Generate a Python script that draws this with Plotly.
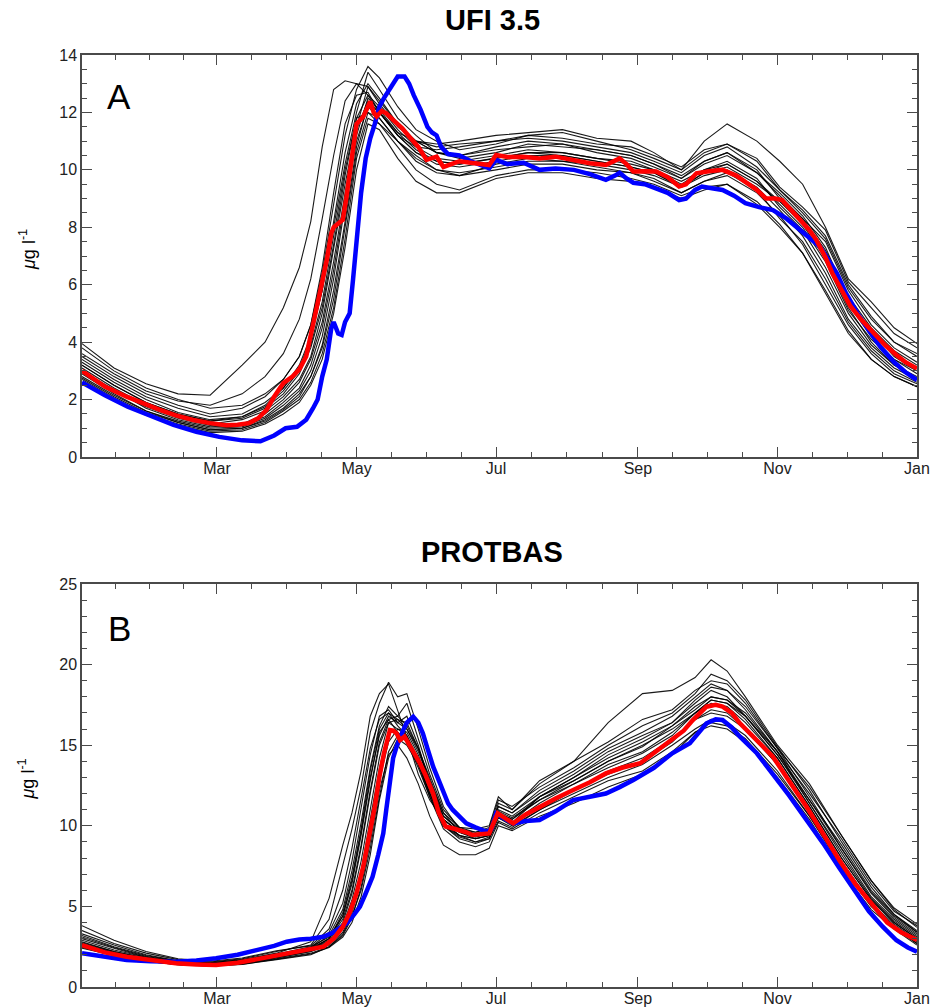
import plotly.graph_objects as go

# ---------------- DATA ----------------
# day of year (0 = 1 Jan, 365 = 1 Jan next year)
month_bounds = [0, 59, 120, 181, 243, 304, 365]
month_tick_days = [59, 120, 181, 243, 304, 365]
month_tick_labels = ["Mar", "May", "Jul", "Sep", "Nov", "Jan"]

# ---- Panel A : UFI 3.5 ----
ufi_member_days = [0, 14, 28, 42, 56, 70, 80, 88, 95, 100, 105, 110, 115, 120, 125, 130, 138, 146, 155,
                   165, 181, 195, 210, 225, 240, 250, 262, 272, 282, 295, 305, 315, 325, 335, 345, 355, 365]
ufi_members = [
    [3.95, 3.1, 2.55, 2.2, 2.15, 3.2, 4.0, 5.2, 6.6, 8.2, 10.8, 12.8, 13.1, 13.0, 12.6, 12.0, 11.3, 11.0, 10.9,
     11.0, 11.2, 11.3, 11.4, 11.1, 11.0, 10.6, 10.0, 11.0, 11.6, 11.0, 10.3, 9.5, 8.0, 6.2, 5.4, 4.5, 3.95],
    [3.6, 2.9, 2.3, 1.95, 1.8, 2.2, 2.8, 3.6, 4.8, 6.2, 8.3, 10.5, 12.4, 13.0, 12.9, 12.3, 11.5, 11.0, 10.8,
     10.9, 11.0, 11.1, 11.0, 10.8, 10.6, 10.3, 9.9, 10.5, 10.8, 10.1, 9.3, 8.5, 7.6, 5.9, 4.8, 4.0, 3.5],
    [3.8, 3.0, 2.4, 2.0, 1.7, 1.8, 2.2, 2.7, 3.5, 4.6, 6.4, 8.8, 11.2, 12.8, 13.6, 13.2, 12.2, 11.4, 11.0,
     10.7, 10.9, 11.2, 11.3, 11.0, 10.7, 10.4, 10.0, 10.6, 10.9, 10.4, 9.4, 8.7, 7.9, 6.1, 5.2, 4.3, 3.8],
    [3.4, 2.7, 2.1, 1.7, 1.4, 1.5, 1.9, 2.4, 3.2, 4.2, 5.8, 8.0, 10.2, 12.0, 13.4, 12.8, 11.8, 11.2, 10.6,
     10.5, 10.7, 10.8, 10.9, 10.6, 10.4, 10.1, 9.7, 10.2, 10.5, 9.9, 9.1, 8.3, 7.2, 5.6, 4.5, 3.7, 3.2],
    [3.2, 2.5, 1.9, 1.5, 1.25, 1.35, 1.7, 2.2, 2.9, 3.8, 5.2, 7.4, 9.8, 11.8, 12.6, 12.2, 11.4, 10.8, 10.4,
     10.3, 10.5, 10.7, 10.6, 10.4, 10.3, 10.0, 9.6, 10.0, 10.2, 9.6, 8.8, 8.0, 6.8, 5.1, 4.1, 3.4, 2.9],
    [3.0, 2.3, 1.75, 1.35, 1.1, 1.15, 1.5, 2.0, 2.6, 3.4, 4.7, 6.8, 9.2, 11.4, 12.4, 12.0, 11.2, 10.6, 10.2,
     10.1, 10.3, 10.5, 10.5, 10.3, 10.1, 9.9, 9.4, 9.8, 10.0, 9.4, 8.6, 7.7, 6.4, 4.8, 3.8, 3.1, 2.7],
    [2.9, 2.2, 1.6, 1.25, 1.0, 1.05, 1.35, 1.8, 2.3, 3.0, 4.2, 6.2, 8.8, 11.0, 12.2, 11.8, 11.0, 10.4, 10.0,
     9.9, 10.1, 10.3, 10.3, 10.1, 9.9, 9.7, 9.2, 9.6, 9.8, 9.2, 8.4, 7.4, 6.0, 4.6, 3.6, 2.9, 2.55],
    [2.7, 2.05, 1.5, 1.15, 0.9, 0.95, 1.2, 1.6, 2.0, 2.6, 3.6, 5.2, 7.6, 10.4, 11.8, 11.6, 10.8, 10.0, 9.5,
     9.3, 9.8, 10.0, 10.0, 9.9, 9.7, 9.5, 9.1, 9.4, 9.5, 8.9, 8.1, 7.1, 5.8, 4.4, 3.4, 2.8, 2.45],
    [3.1, 2.4, 1.8, 1.4, 1.15, 1.3, 1.6, 2.1, 2.7, 3.5, 5.0, 7.2, 9.5, 11.5, 12.9, 12.4, 11.6, 11.0, 10.6,
     10.4, 10.6, 10.9, 10.8, 10.7, 10.5, 10.2, 9.8, 10.3, 10.6, 9.9, 9.2, 8.4, 7.3, 5.5, 4.4, 3.5, 3.0],
    [3.3, 2.6, 2.0, 1.55, 1.3, 1.4, 1.75, 2.3, 3.0, 3.9, 5.4, 7.7, 10.0, 11.8, 12.0, 11.6, 11.0, 10.5, 10.0,
     9.8, 10.2, 10.4, 10.3, 10.2, 10.0, 9.8, 9.4, 9.9, 10.1, 9.5, 8.9, 8.2, 7.0, 5.3, 4.2, 3.4, 3.0],
    [2.8, 2.15, 1.6, 1.2, 0.95, 1.0, 1.3, 1.7, 2.2, 2.8, 3.9, 5.8, 8.2, 10.8, 12.3, 12.0, 11.2, 10.6, 10.3,
     10.2, 10.4, 10.6, 10.5, 10.3, 10.1, 9.9, 9.4, 9.9, 10.2, 9.6, 8.9, 8.1, 6.9, 5.2, 4.0, 3.2, 2.8],
    [2.6, 2.0, 1.45, 1.1, 0.85, 0.9, 1.15, 1.5, 1.9, 2.5, 3.4, 5.0, 7.3, 10.0, 11.6, 11.4, 10.4, 9.6, 9.2,
     9.2, 9.7, 9.9, 9.9, 9.7, 9.6, 9.4, 9.0, 9.3, 9.5, 8.8, 8.0, 7.1, 5.7, 4.3, 3.4, 2.8, 2.45],
    [3.5, 2.8, 2.2, 1.8, 1.5, 1.7, 2.1, 2.7, 3.5, 4.6, 6.6, 9.2, 11.6, 12.6, 12.7, 12.0, 11.2, 10.8, 10.7,
     10.8, 11.0, 11.2, 11.1, 10.9, 10.8, 10.5, 10.1, 10.7, 10.9, 10.3, 9.3, 8.6, 7.7, 6.0, 4.9, 4.0, 3.6],
    [3.0, 2.35, 1.7, 1.3, 1.05, 1.1, 1.4, 1.9, 2.4, 3.2, 4.5, 6.5, 9.0, 11.2, 12.5, 12.1, 11.3, 10.7, 10.3,
     10.2, 10.4, 10.6, 10.6, 10.4, 10.2, 10.0, 9.5, 10.0, 10.3, 9.7, 8.7, 7.9, 6.6, 5.0, 3.9, 3.2, 2.75],
    [2.75, 2.1, 1.55, 1.2, 0.95, 1.0, 1.25, 1.65, 2.1, 2.8, 3.8, 5.5, 8.0, 10.6, 12.0, 11.8, 11.0, 10.3, 9.9,
     9.8, 10.0, 10.2, 10.2, 10.0, 9.9, 9.6, 9.2, 9.6, 9.9, 9.3, 8.3, 7.5, 6.2, 4.7, 3.7, 3.0, 2.6],
    [3.2, 2.5, 1.9, 1.5, 1.25, 1.4, 1.8, 2.4, 3.1, 4.1, 5.8, 8.2, 10.6, 12.3, 13.0, 12.5, 11.6, 11.0, 10.6,
     10.5, 10.8, 11.0, 10.9, 10.7, 10.5, 10.2, 9.7, 10.3, 10.6, 10.0, 9.0, 8.3, 7.5, 5.8, 4.6, 3.8, 3.3],
]

ufi_red_days = [0, 10, 19.5, 27, 34, 41, 48.6, 56, 63, 68, 73, 77, 80.7, 84, 88, 92, 95, 98, 100, 102.6, 105,
                107, 109, 110, 112, 114, 115.5, 117, 119, 120, 123, 126, 127.5, 128.8, 131, 133, 136, 140,
                143, 147, 150.6, 155, 158, 161, 165, 170, 175, 178, 181, 186, 193, 200, 207, 214, 222, 229,
                232, 235, 238, 241, 246, 251, 256, 261, 264, 268.6, 274, 280, 286, 290.5, 295, 299, 303,
                306, 310, 314, 318, 321, 325, 328, 332, 336, 341, 346, 351, 356, 360, 365]
ufi_red = [3.0, 2.45, 2.1, 1.85, 1.64, 1.45, 1.29, 1.18, 1.11, 1.12, 1.18, 1.35, 1.64, 2.1, 2.57, 2.8, 3.05,
           3.5, 4.2, 5.24, 6.1, 6.86, 7.8, 8.0, 8.15, 8.26, 9.0, 9.9, 11.0, 11.6, 11.86, 12.38, 12.0, 11.86,
           12.05, 11.97, 11.74, 11.45, 11.16, 10.8, 10.35, 10.46, 10.1, 10.2, 10.3, 10.25, 10.2, 10.17,
           10.52, 10.45, 10.46, 10.4, 10.46, 10.35, 10.23, 10.17, 10.3, 10.4, 10.2, 9.94, 9.95, 9.94,
           9.75, 9.42, 9.5, 9.88, 9.95, 10.0, 9.8, 9.54, 9.3, 9.0, 9.0, 8.95, 8.6, 8.26, 7.9, 7.56, 6.95,
           6.4, 5.8, 5.24, 4.75, 4.3, 3.9, 3.55, 3.3, 3.08]

ufi_blue_days = [0, 10, 20, 30, 40, 50, 60, 70, 78, 84, 89, 94, 98, 101, 103, 105, 107, 109, 110, 112,
                 113.5, 115, 117, 118.5, 120, 122, 124, 126, 128, 130, 132, 135, 138, 141, 143, 145, 148,
                 151, 153, 155, 157, 160, 165, 170, 175, 178, 181, 186, 193, 200, 207, 215, 222, 229, 233,
                 235, 238, 241, 246, 251, 256, 261, 264, 268, 271, 276, 280, 285, 290, 296, 302, 308, 314,
                 318, 322.5, 326, 330, 334, 339, 344, 349, 355, 360, 365]
ufi_blue = [2.6, 2.15, 1.75, 1.42, 1.12, 0.88, 0.7, 0.58, 0.55, 0.75, 1.0, 1.05, 1.3, 1.7, 2.0, 2.8, 3.4,
            4.5, 4.7, 4.3, 4.25, 4.7, 5.0, 6.2, 7.6, 9.2, 10.4, 11.1, 11.6, 12.2, 12.5, 12.9, 13.25, 13.25,
            13.0, 12.6, 12.1, 11.5, 11.3, 11.2, 10.8, 10.55, 10.5, 10.3, 10.15, 10.05, 10.35, 10.2, 10.25,
            10.0, 10.05, 10.0, 9.85, 9.65, 9.8, 9.9, 9.7, 9.55, 9.5, 9.37, 9.2, 8.95, 9.0, 9.3, 9.42, 9.35,
            9.3, 9.1, 8.84, 8.7, 8.6, 8.3, 7.9, 7.65, 7.33, 6.9, 6.4, 5.7, 5.0, 4.4, 3.84, 3.3, 2.95, 2.68]

# ---- Panel B : PROTBAS ----
prot_member_days = [0, 14, 28, 42, 56, 70, 85, 100, 108, 114, 118, 122, 126, 130, 134, 138, 142, 147, 152,
                    158, 165, 172, 178, 182, 188, 200, 215, 230, 245, 258, 268, 275, 282, 290, 304, 318,
                    332, 345, 355, 365]
prot_members = [
    [3.2, 2.5, 1.95, 1.6, 1.5, 1.7, 2.1, 2.8, 5.5, 8.8, 10.8, 13.4, 16.8, 18.2, 18.8, 17.2, 15.5, 13.2, 11.6,
     10.4, 9.6, 9.2, 9.4, 10.6, 10.2, 11.4, 12.6, 13.6, 14.5, 15.6, 17.0, 17.8, 17.6, 16.6, 14.2, 11.2, 8.0,
     5.4, 4.0, 3.0],
    [3.5, 2.7, 2.1, 1.7, 1.55, 1.75, 2.2, 2.6, 4.2, 7.6, 9.8, 12.4, 15.8, 17.6, 18.9, 18.0, 18.2, 16.0, 13.6,
     11.2, 9.8, 9.6, 9.8, 11.2, 10.8, 12.0, 13.2, 14.6, 15.6, 16.4, 17.8, 18.6, 18.4, 17.4, 14.8, 11.8, 8.6,
     5.9, 4.4, 3.4],
    [3.0, 2.4, 1.85, 1.55, 1.45, 1.6, 1.95, 2.3, 3.0, 4.2, 6.0, 8.8, 12.2, 15.2, 16.6, 16.8, 16.2, 14.8, 12.8,
     10.8, 9.6, 9.4, 9.6, 11.4, 11.0, 12.6, 14.0, 16.4, 18.2, 18.4, 19.2, 20.3, 19.6, 18.0, 15.0, 12.6, 9.4,
     6.6, 4.8, 3.7],
    [2.8, 2.2, 1.8, 1.5, 1.4, 1.55, 1.9, 2.4, 3.2, 4.8, 7.2, 10.2, 13.6, 16.2, 17.4, 16.8, 17.6, 15.4, 13.2,
     11.0, 9.9, 9.6, 9.9, 11.6, 11.2, 12.4, 13.6, 15.0, 16.2, 17.0, 18.2, 19.4, 19.0, 17.8, 14.9, 12.2, 9.0,
     6.2, 4.5, 3.4],
    [2.6, 2.05, 1.7, 1.45, 1.35, 1.5, 1.85, 2.25, 2.8, 3.8, 5.4, 7.8, 11.0, 14.2, 16.4, 16.6, 16.0, 14.6,
     12.8, 10.6, 9.7, 9.4, 9.6, 10.9, 10.5, 11.6, 12.8, 14.0, 14.9, 16.2, 17.4, 18.0, 17.8, 16.8, 14.4, 11.4,
     8.2, 5.5, 4.1, 3.1],
    [2.5, 2.0, 1.65, 1.4, 1.3, 1.45, 1.8, 2.2, 2.6, 3.4, 4.6, 6.6, 9.6, 12.8, 15.2, 16.0, 15.6, 14.2, 12.2,
     10.2, 9.4, 9.2, 9.4, 10.5, 10.0, 11.0, 12.2, 13.2, 14.0, 15.2, 16.6, 17.2, 17.0, 16.0, 13.8, 10.8, 7.6,
     5.1, 3.8, 2.8],
    [2.4, 1.95, 1.6, 1.38, 1.3, 1.4, 1.7, 2.0, 2.5, 3.2, 4.3, 6.2, 9.0, 12.2, 14.4, 15.0, 14.2, 12.6, 10.6,
     8.8, 8.2, 8.2, 8.6, 10.0, 9.7, 10.6, 11.4, 12.4, 13.2, 14.4, 15.8, 16.2, 16.0, 15.2, 13.0, 10.4, 7.2,
     4.8, 3.6, 2.6],
    [2.9, 2.3, 1.85, 1.55, 1.42, 1.6, 2.0, 2.45, 3.4, 5.2, 7.8, 11.0, 14.4, 16.8, 17.2, 16.4, 16.8, 15.0,
     12.6, 10.6, 9.8, 9.5, 9.7, 11.2, 10.8, 12.2, 13.4, 14.8, 15.8, 16.8, 18.0, 18.8, 18.4, 17.2, 14.6, 11.6,
     8.6, 5.8, 4.3, 3.3],
    [2.7, 2.15, 1.75, 1.48, 1.38, 1.52, 1.88, 2.3, 2.9, 4.0, 5.8, 8.6, 12.0, 15.0, 16.4, 16.0, 15.8, 14.4,
     12.4, 10.4, 9.6, 9.3, 9.5, 10.8, 10.4, 11.6, 12.6, 13.8, 14.6, 15.8, 17.0, 17.6, 17.4, 16.4, 14.2, 11.2,
     8.0, 5.4, 4.0, 3.0],
    [3.8, 2.9, 2.2, 1.75, 1.6, 1.8, 2.25, 2.55, 3.6, 6.0, 8.6, 11.6, 14.8, 16.6, 17.0, 16.2, 15.6, 14.0,
     12.0, 10.2, 9.4, 9.0, 9.2, 10.6, 10.2, 11.8, 13.0, 14.2, 15.2, 16.2, 17.2, 18.0, 17.8, 17.0, 14.6, 12.0,
     9.2, 6.4, 4.7, 3.8],
    [2.55, 2.0, 1.62, 1.4, 1.32, 1.45, 1.75, 2.1, 2.5, 3.3, 4.4, 6.0, 8.6, 11.8, 14.6, 15.6, 15.4, 14.0,
     12.0, 10.0, 9.2, 8.9, 9.2, 10.3, 9.9, 11.0, 12.0, 13.0, 13.8, 15.0, 16.0, 16.6, 16.4, 15.6, 13.4, 10.6,
     7.4, 5.0, 3.7, 2.7],
    [3.3, 2.6, 2.0, 1.62, 1.5, 1.68, 2.05, 2.5, 3.1, 4.4, 6.6, 9.6, 13.0, 15.6, 16.8, 16.4, 16.0, 14.8, 13.0,
     10.8, 9.9, 9.8, 10.0, 11.8, 11.0, 12.8, 14.0, 15.2, 16.6, 17.2, 18.4, 19.0, 18.8, 17.6, 14.8, 12.4, 9.4,
     6.6, 4.9, 3.9],
    [2.65, 2.1, 1.7, 1.45, 1.35, 1.48, 1.82, 2.2, 2.7, 3.6, 5.0, 7.2, 10.4, 13.6, 15.8, 15.8, 15.2, 13.8,
     12.0, 10.0, 9.3, 9.0, 9.3, 10.5, 10.1, 11.2, 12.2, 13.4, 14.2, 15.4, 16.6, 17.0, 16.8, 16.0, 13.8, 10.9,
     7.8, 5.2, 3.9, 2.9],
    [3.1, 2.45, 1.9, 1.58, 1.46, 1.62, 2.0, 2.4, 3.0, 4.4, 6.4, 9.4, 12.8, 15.8, 16.6, 15.8, 15.2, 13.6,
     11.8, 10.0, 9.4, 9.2, 9.4, 10.8, 10.4, 11.8, 12.8, 14.0, 15.0, 16.0, 17.0, 17.8, 17.6, 16.8, 14.4, 11.6,
     8.8, 6.0, 4.5, 3.5],
    [2.45, 1.95, 1.6, 1.38, 1.3, 1.42, 1.72, 2.05, 2.45, 3.1, 4.0, 5.6, 8.2, 11.6, 14.2, 15.4, 15.0, 13.8,
     11.8, 9.8, 9.0, 8.7, 9.0, 10.2, 9.8, 10.8, 11.8, 12.8, 13.4, 14.6, 15.8, 16.4, 16.2, 15.4, 13.2, 10.6,
     7.6, 5.0, 3.7, 2.7],
    [2.75, 2.2, 1.78, 1.5, 1.4, 1.55, 1.9, 2.35, 3.0, 4.6, 6.8, 9.8, 13.4, 16.0, 17.0, 16.6, 16.4, 14.8,
     12.6, 10.4, 9.6, 9.4, 9.6, 11.0, 10.6, 11.8, 13.0, 14.4, 15.4, 16.4, 17.6, 18.4, 18.0, 16.8, 14.6, 11.4,
     8.4, 5.6, 4.2, 3.2],
]

prot_red_days = [0, 10, 19.5, 30, 41, 50, 58.6, 68, 78, 85, 92, 100, 105.5, 110, 114, 117, 120, 123, 126,
                 128, 130, 132, 134.6, 136, 137.5, 139, 141, 144, 147.7, 150, 153.5, 156, 159, 162, 165, 168,
                 170.6, 175, 178, 181.7, 185, 188.5, 194, 200, 207, 214.7, 222, 229, 236, 244, 251, 258, 263,
                 267, 270, 273, 277, 280, 284, 287.6, 295, 302, 309, 316.7, 324, 331, 338, 346, 352, 358, 365]
prot_red = [2.6, 2.15, 1.88, 1.65, 1.47, 1.4, 1.36, 1.5, 1.78, 1.98, 2.19, 2.35, 2.5, 3.0, 3.74, 4.6, 5.81,
            7.5, 9.53, 11.2, 13.04, 14.5, 15.94, 15.9, 15.74, 15.32, 15.53, 14.8, 13.88, 13.2, 12.0, 10.8,
            9.95, 9.85, 9.74, 9.6, 9.43, 9.5, 9.53, 10.77, 10.5, 10.15, 10.7, 11.18, 11.7, 12.22, 12.7, 13.25,
            13.6, 13.88, 14.6, 15.32, 15.9, 16.56, 17.0, 17.39, 17.5, 17.39, 17.0, 16.36, 15.3, 14.29, 12.8,
            11.18, 9.5, 7.88, 6.4, 4.98, 4.0, 3.4, 2.92]

prot_blue_days = [0, 10, 19.5, 30, 41, 50, 58.6, 68, 78, 84, 89.5, 95, 100, 105.5, 110, 115.7, 119, 121.5,
                  124, 127, 129.5, 131.7, 133, 134.6, 136, 137.5, 139, 140.4, 142, 144.8, 147, 149, 151,
                  153.5, 156, 158, 160, 162, 165, 168, 172, 177, 179, 181, 184, 188.5, 194, 200, 207, 214.7,
                  222, 229, 235, 241, 250, 258, 265.7, 270, 273, 277, 280, 284, 287.6, 295, 302, 309, 316.7,
                  324, 331, 338.6, 344, 350, 356, 361, 365]
prot_blue = [2.09, 1.85, 1.67, 1.6, 1.57, 1.65, 1.78, 2.0, 2.3, 2.55, 2.81, 2.95, 3.0, 3.12, 3.4, 3.95, 4.5,
             4.98, 5.8, 6.84, 8.2, 9.53, 11.0, 13.04, 14.2, 14.9, 15.5, 15.94, 16.4, 16.77, 16.4, 15.74, 14.8,
             13.67, 12.8, 12.0, 11.4, 11.0, 10.6, 10.15, 9.9, 9.63, 9.8, 10.77, 10.5, 10.15, 10.3, 10.36, 10.9,
             11.6, 11.8, 12.0, 12.4, 12.84, 13.6, 14.5, 15.12, 15.9, 16.36, 16.6, 16.56, 16.1, 15.53, 14.5,
             13.25, 11.9, 10.36, 8.91, 7.4, 5.81, 4.7, 3.74, 2.9, 2.45, 2.19]

panel_titles = ["UFI 3.5", "PROTBAS"]
panel_letters = ["A", "B"]
y_label = "<i>μ</i>g l<sup>-1</sup>"

# ---------------- FIGURE ----------------
W, H = 930, 1008
PX_L, PX_R = 82, 917
panels = [
    dict(top=55, bottom=457, ymax=14, dtick=2, minor=0.5, members=ufi_members, mdays=ufi_member_days,
         red=(ufi_red_days, ufi_red), blue=(ufi_blue_days, ufi_blue), title_y=20, letter_y=96),
    dict(top=584, bottom=987, ymax=25, dtick=5, minor=1, members=prot_members, mdays=prot_member_days,
         red=(prot_red_days, prot_red), blue=(prot_blue_days, prot_blue), title_y=552, letter_y=628),
]

fig = go.Figure()
FONT = "Liberation Sans, Arial, Helvetica, sans-serif"
AXCOL = "#4a4a4a"

# minor x ticks: each major interval split into 4
minor_x = []
for a, b in zip(month_bounds[:-1], month_bounds[1:]):
    for k in range(1, 4):
        minor_x.append(a + (b - a) * k / 4)

for i, p in enumerate(panels):
    sfx = "" if i == 0 else str(i + 1)
    xa, ya = "x" + sfx, "y" + sfx
    for m in p["members"]:
        fig.add_trace(go.Scatter(x=p["mdays"], y=m, mode="lines", xaxis=xa, yaxis=ya,
                                 line=dict(color="rgba(0,0,0,0.9)", width=1.1), showlegend=False,
                                 hoverinfo="skip"))
    fig.add_trace(go.Scatter(x=p["blue"][0], y=p["blue"][1], mode="lines", xaxis=xa, yaxis=ya,
                             line=dict(color="#0000ff", width=4.5), showlegend=False))
    fig.add_trace(go.Scatter(x=p["red"][0], y=p["red"][1], mode="lines", xaxis=xa, yaxis=ya,
                             line=dict(color="#ff0000", width=4.5), showlegend=False))

    ydom = [1 - p["bottom"] / H, 1 - p["top"] / H]
    xdom = [PX_L / W, PX_R / W]
    axis_common = dict(showline=True, linecolor=AXCOL, linewidth=1.5, mirror="ticks", ticks="inside",
                       tickcolor=AXCOL, tickwidth=1.2, ticklen=10, showgrid=False, zeroline=False,
                       tickfont=dict(family=FONT, size=16, color="#222"), automargin=False)
    fig.layout["xaxis" + sfx] = dict(domain=xdom, range=[0, 365], anchor=ya, tickmode="array",
                                     tickvals=month_tick_days, ticktext=month_tick_labels,
                                     ticklabelstandoff=-4,
                                     minor=dict(tickmode="array", tickvals=minor_x, ticks="inside",
                                                ticklen=5, tickcolor=AXCOL, tickwidth=1.2),
                                     **axis_common)
    fig.layout["yaxis" + sfx] = dict(domain=ydom, range=[0, p["ymax"]], anchor=xa, dtick=p["dtick"],
                                     tick0=0,
                                     minor=dict(dtick=p["minor"], ticks="inside", ticklen=5,
                                                tickcolor=AXCOL, tickwidth=1.2),
                                     **axis_common)
    # panel title
    fig.add_annotation(x=492 / W, y=1 - p["title_y"] / H, xref="paper", yref="paper",
                       xanchor="center", yanchor="middle",
                       text="<b>%s</b>" % panel_titles[i], showarrow=False,
                       font=dict(family=FONT, size=29, color="#000"))
    # panel letter
    fig.add_annotation(x=119 / W, y=1 - p["letter_y"] / H, xref="paper", yref="paper",
                       xanchor="center", yanchor="middle",
                       text=panel_letters[i], showarrow=False,
                       font=dict(family=FONT, size=35, color="#000"))
    # y label
    fig.add_annotation(x=27 / W, y=1 - ((p["top"] + p["bottom"]) / 2 - 6) / H, xref="paper", yref="paper",
                       xanchor="center", yanchor="middle",
                       text=y_label, showarrow=False, textangle=-90,
                       font=dict(family=FONT, size=18, color="#000"))

fig.update_layout(width=W, height=H, margin=dict(l=0, r=0, t=0, b=0),
                  paper_bgcolor="white", plot_bgcolor="white", showlegend=False)
fig.write_html("out.html", config={"displayModeBar": False},
               post_script="document.body.style.margin='0px';document.body.style.padding='0px';")
